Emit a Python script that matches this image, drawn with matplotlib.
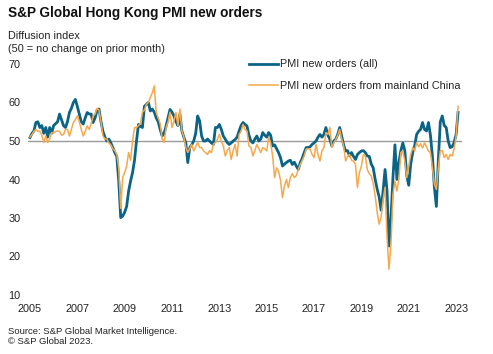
"""
S&P Global Hong Kong PMI new orders, 2005 to Feb 2023.
"""

import matplotlib

matplotlib.use("Agg")

import matplotlib.pyplot as plt

plt.rcParams["font.family"] = ["Liberation Sans", "DejaVu Sans"]

# monthly values, Jan 2005 .. Feb 2023
years = list(range(2005, 2024, 2))

pmi_all = [
    # 2005
    50.9, 52.0, 52.6, 54.8, 55.0, 53.5, 54.0, 52.0, 53.5, 51.0, 53.5, 52.0,
    # 2006
    54.0, 54.5, 55.0, 57.0, 55.5, 54.0, 53.5, 55.0, 57.4, 58.5, 60.0, 60.8,
    # 2007
    59.0, 57.0, 55.0, 54.4, 56.0, 57.4, 57.0, 57.0, 54.8, 56.0, 58.0, 58.3,
    # 2008
    55.0, 52.5, 51.0, 50.0, 50.5, 49.5, 48.3, 47.0, 46.0, 39.6, 30.1, 30.5,
    # 2009
    31.5, 33.0, 37.0, 39.6, 41.8, 45.0, 50.0, 54.3, 53.8, 53.5, 59.0, 59.5,
    # 2010
    60.0, 57.8, 58.3, 57.5, 56.0, 55.0, 53.0, 51.3, 52.0, 53.9, 56.0, 58.2,
    # 2011
    57.5, 56.5, 55.0, 54.0, 57.0, 52.6, 51.0, 49.5, 44.4, 48.3, 49.0, 50.0,
    # 2012
    52.0, 56.5, 55.2, 51.3, 50.0, 50.0, 50.5, 50.0, 49.5, 49.1, 53.5, 53.5,
    # 2013
    54.3, 53.0, 51.3, 50.5, 49.6, 49.1, 49.5, 50.0, 50.4, 51.0, 52.6, 54.0,
    # 2014
    54.8, 54.3, 53.9, 51.5, 50.0, 49.5, 50.5, 51.3, 50.0, 50.5, 52.2, 51.5,
    # 2015
    51.0, 52.2, 51.5, 48.7, 49.0, 48.0, 47.0, 45.7, 43.5, 44.0, 44.4, 44.8,
    # 2016
    45.0, 43.9, 44.5, 43.5, 42.6, 44.4, 45.5, 47.0, 48.3, 48.3, 48.5, 49.1,
    # 2017
    49.5, 50.0, 51.0, 51.7, 51.0, 51.7, 53.5, 51.5, 50.5, 48.7, 50.0, 50.5,
    # 2018
    51.7, 53.5, 51.3, 49.0, 47.4, 47.5, 46.1, 47.0, 46.0, 45.2, 46.5, 47.0,
    # 2019
    47.4, 47.5, 47.0, 46.1, 46.0, 44.0, 43.0, 40.0, 37.5, 35.5, 32.0, 37.0,
    # 2020
    42.6, 37.0, 22.7, 30.0, 40.5, 49.0, 40.0, 44.5, 47.5, 49.5, 47.5, 41.0,
    # 2021
    38.5, 44.0, 47.0, 48.7, 51.7, 52.5, 53.0, 54.8, 53.0, 52.6, 54.8, 51.5,
    # 2022
    46.0, 38.0, 33.0, 45.0, 55.0, 56.5, 54.0, 53.5, 50.0, 48.3, 48.5, 49.6,
    # 2023
    51.7, 57.4,
]

pmi_china = [
    # 2005
    51.0, 51.7, 52.5, 53.0, 52.5, 52.6, 51.5, 49.6, 51.3, 49.6, 50.5, 52.2,
    # 2006
    52.0, 52.5, 52.6, 52.5, 51.5, 51.7, 53.0, 53.0, 51.3, 53.0, 54.8, 55.5,
    # 2007
    56.5, 55.0, 53.0, 51.3, 52.5, 53.9, 53.0, 54.5, 56.5, 57.0, 58.5, 58.0,
    # 2008
    55.0, 51.3, 50.5, 50.5, 49.5, 49.0, 48.0, 47.5, 46.5, 43.0, 32.5, 40.5,
    # 2009
    41.8, 43.5, 47.0, 45.0, 50.0, 53.5, 53.5, 54.0, 54.5, 57.5, 58.0, 59.5,
    # 2010
    60.0, 61.3, 62.5, 64.3, 57.4, 56.0, 54.5, 50.5, 49.6, 53.5, 55.0, 57.5,
    # 2011
    53.5, 55.2, 57.4, 53.9, 58.3, 52.6, 51.0, 48.3, 47.0, 48.0, 49.1, 47.4,
    # 2012
    48.5, 49.6, 48.3, 48.3, 47.4, 47.0, 46.5, 47.5, 47.0, 49.2, 49.6, 50.4,
    # 2013
    51.7, 50.0, 48.7, 46.1, 47.5, 48.3, 45.2, 47.5, 49.1, 46.1, 51.7, 52.5,
    # 2014
    54.3, 53.0, 52.6, 48.7, 48.3, 46.1, 47.5, 49.1, 48.0, 47.0, 48.3, 48.0,
    # 2015
    47.4, 50.9, 49.5, 46.1, 40.5, 43.0, 42.2, 39.8, 35.3, 38.3, 40.0, 37.9,
    # 2016
    40.5, 41.5, 40.5, 41.0, 42.6, 43.9, 45.0, 46.1, 47.9, 48.0, 47.9, 46.5,
    # 2017
    45.7, 49.1, 46.5, 44.8, 47.5, 48.3, 52.2, 51.7, 53.5, 48.3, 49.5, 50.4,
    # 2018
    51.5, 53.0, 50.5, 48.7, 44.8, 46.0, 46.5, 45.0, 44.8, 43.9, 37.9, 41.8,
    # 2019
    43.5, 46.5, 46.1, 42.6, 41.5, 40.9, 39.0, 35.7, 31.5, 28.4, 30.3, 34.8,
    # 2020
    37.9, 25.0, 16.7, 23.2, 36.2, 39.6, 37.0, 40.0, 47.0, 47.4, 44.8, 40.5,
    # 2021
    43.5, 46.5, 48.3, 47.4, 49.6, 48.5, 49.3, 48.2, 49.5, 48.5, 47.4, 47.0,
    # 2022
    43.1, 38.8, 37.4, 43.0, 47.5, 47.5, 45.7, 46.5, 45.2, 46.5, 46.1, 47.9,
    # 2023
    51.3, 59.0,
]

months = list(range(len(pmi_all)))

TEAL = "#0b6386"
ORANGE = "#f6a94c"


def main():

    fig = plt.figure(figsize=(4.93, 3.54), dpi=100)

    W, H = 493, 354

    ax = fig.add_axes([
        28 / W,
        (H - 295) / H,
        (462 - 28) / W,
        (295 - 64) / H,
    ])

    ax.axhline(50, color="#9a9a9a", linewidth=1.0, zorder=1)

    ax.plot(
        months,
        pmi_all,
        color=TEAL,
        linewidth=2.0,
        solid_joinstyle="round",
        label="PMI new orders (all)",
        zorder=2,
    )

    ax.plot(
        months,
        pmi_china,
        color=ORANGE,
        linewidth=1.1,
        solid_joinstyle="round",
        label="PMI new orders from mainland China",
        zorder=3,
    )

    ax.set_xlim(-1, 219)
    ax.set_ylim(10, 70)

    ax.set_xticks([(y - 2005) * 12 for y in years])
    ax.set_xticklabels([str(y) for y in years])
    ax.set_yticks(range(10, 71, 10))

    ax.tick_params(axis="both", length=0, labelsize=7.8, colors="#222222")
    ax.tick_params(axis="y", pad=5.5)
    ax.tick_params(axis="x", pad=6.5)

    for s in ax.spines.values():
        s.set_visible(False)

    ax.legend(
        loc="upper left",
        bbox_to_anchor=(244 / W, 1 - 54 / H),
        bbox_transform=fig.transFigure,
        frameon=False,
        fontsize=7.8,
        handlelength=2.6,
        handletextpad=0.2,
        labelspacing=1.05,
        borderpad=0,
        labelcolor="#222222",
    )

    fig.text(8 / W, 1 - 13 / H, "S&P Global Hong Kong PMI new orders",
             fontsize=9.8, fontweight="bold", va="center", color="#111111")
    fig.text(8 / W, 1 - 36 / H, "Diffusion index",
             fontsize=7.8, va="center", color="#222222")
    fig.text(8 / W, 1 - 49 / H, "(50 = no change on prior month)",
             fontsize=7.8, va="center", color="#222222")

    fig.text(8 / W, 1 - 331 / H, "Source: S&P Global Market Intelligence.",
             fontsize=6.8, va="center", color="#222222")
    fig.text(8 / W, 1 - 341 / H, "\u00a9 S&P Global 2023.",
             fontsize=6.8, va="center", color="#222222")

    fig.savefig("out.png", dpi=100)

    plt.close(fig)


if __name__ == "__main__":

    main()
